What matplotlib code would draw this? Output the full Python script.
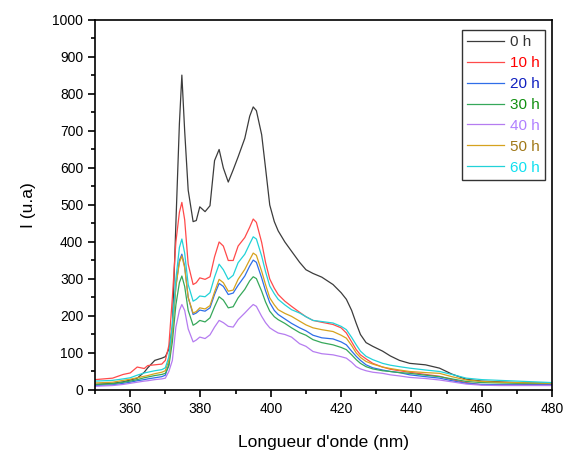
import matplotlib
matplotlib.use('Agg')
import matplotlib.pyplot as plt
from matplotlib.ticker import MultipleLocator

plt.rcParams['font.family'] = ['Liberation Sans', 'DejaVu Sans']

# longueur d'onde (nm), grille commune
wl = [350, 355, 358, 360, 362, 364, 365, 367, 369, 370,
      371, 372, 373, 374, 374.7, 375.5, 376.5, 377.9, 378.8, 379.8,
      381.3, 382.7, 384, 385.3, 386.5, 387.9, 389.3, 390.7, 392.6, 394,
      395, 395.9, 397.4, 398.5, 399.7, 401, 402.1, 404, 405.9, 408.2,
      410, 412, 414.5, 417.7, 420, 421.5, 423, 424.3, 425.5, 427.1,
      429, 431.8, 434, 436.6, 439.5, 444, 448, 451.5, 455.6, 460,
      465, 470, 475, 480]

i_0h = [15, 18, 22, 27, 32, 48, 60, 80, 86, 90,
        110, 170, 450, 720, 851, 700, 540, 455, 458, 495,
        482, 498, 620, 650, 600, 562, 595, 630, 680, 740,
        765, 755, 690, 600, 500, 455, 430, 400, 375, 345,
        325, 315, 305, 285, 263, 245, 215, 180, 150, 128,
        118, 105, 92, 80, 72, 68, 59, 43, 29, 24,
        22, 20, 19, 18]

i_10h = [28, 32, 42, 46, 62, 58, 66, 68, 70, 80,
         120, 250, 400, 480, 507, 460, 340, 285, 290, 303,
         299, 306, 360, 400, 389, 350, 350, 389, 412, 440,
         462, 453, 399, 345, 300, 275, 258, 240, 226, 210,
         198, 188, 183, 177, 168, 154, 130, 109, 95, 84,
         72, 62, 56, 52, 48, 42, 37, 28, 20, 14,
         14, 14, 15, 15]

i_20h = [12, 14, 18, 21, 25, 28, 30, 33, 36, 40,
         70, 160, 280, 350, 367, 335, 250, 204, 208, 216,
         213, 222, 258, 288, 280, 258, 262, 283, 308, 335,
         351, 345, 303, 268, 236, 215, 204, 192, 180, 168,
         160, 148, 141, 138, 130, 122, 105, 91, 80, 68,
         60, 54, 50, 47, 41, 36, 32, 25, 18, 15,
         14, 14, 14, 14]

i_30h = [15, 17, 21, 24, 28, 33, 35, 39, 42, 45,
         65, 130, 230, 290, 308, 280, 215, 175, 180, 188,
         184, 195, 225, 252, 243, 222, 225, 249, 272, 295,
         306, 301, 267, 238, 213, 198, 190, 180, 168, 155,
         148, 136, 128, 122, 115, 109, 95, 82, 72, 63,
         57, 52, 50, 47, 45, 40, 36, 30, 23, 20,
         19, 18, 18, 18]

i_40h = [10, 12, 15, 18, 21, 24, 25, 28, 30, 32,
         50, 80, 170, 215, 231, 215, 165, 130, 135, 143,
         139, 149, 170, 188, 182, 172, 170, 190, 208, 222,
         231, 226, 199, 182, 168, 160, 154, 150, 143, 125,
         118, 104, 98, 95, 90, 86, 75, 63, 57, 52,
         48, 45, 41, 38, 34, 31, 27, 22, 16, 13,
         12, 12, 12, 12]

i_50h = [19, 21, 26, 29, 33, 37, 39, 44, 48, 52,
         80, 160, 280, 345, 362, 330, 250, 208, 212, 222,
         219, 228, 265, 299, 290, 267, 270, 299, 326, 352,
         370, 364, 321, 285, 249, 230, 217, 207, 199, 186,
         176, 168, 163, 158, 148, 140, 120, 100, 88, 77,
         70, 62, 58, 54, 50, 47, 45, 36, 27, 23,
         21, 20, 19, 18]

i_60h = [24, 26, 30, 33, 40, 46, 48, 52, 55, 60,
         90, 180, 300, 385, 408, 370, 285, 240, 245, 254,
         252, 263, 305, 340, 325, 299, 310, 344, 367, 395,
         414, 408, 362, 320, 281, 260, 245, 230, 217, 208,
         198, 188, 185, 181, 172, 163, 142, 122, 105, 91,
         82, 72, 67, 63, 59, 54, 50, 42, 32, 28,
         26, 24, 22, 20]

labels = ['0 h', '10 h', '20 h', '30 h', '40 h', '50 h', '60 h']
series = [i_0h, i_10h, i_20h, i_30h, i_40h, i_50h, i_60h]
line_colors = ['#3c3c3c', '#ff4a4a', '#2f6ee8', '#36a85a', '#b57cf0', '#d6a21e', '#22d2d8']
text_colors = ['#333333', '#ff0000', '#1020c0', '#109010', '#b080ff', '#a07818', '#10e0f0']

fig = plt.figure(figsize=(5.67, 4.54), dpi=100)
ax = fig.add_axes([0.1676, 0.141, 0.806, 0.815])

for y, lab, c in zip(series, labels, line_colors):
    ax.plot(wl, y, color=c, lw=0.9, label=lab)

ax.set_xlim(350, 480)
ax.set_ylim(0, 1000)
ax.xaxis.set_major_locator(MultipleLocator(20))
ax.xaxis.set_minor_locator(MultipleLocator(10))
ax.yaxis.set_major_locator(MultipleLocator(100))
ax.yaxis.set_minor_locator(MultipleLocator(50))
ax.tick_params(which='both', direction='out', top=False, right=False, width=1.2, labelsize=10)
ax.tick_params(which='major', length=5)
ax.tick_params(which='minor', length=3)
for s in ax.spines.values():
    s.set_linewidth(1.2)

ax.set_xlabel("Longueur d'onde (nm)", fontsize=12.5, labelpad=14)
ax.set_ylabel('I (u.a)', fontsize=12.5, labelpad=12)

leg = ax.legend(loc='upper right', bbox_to_anchor=(0.985, 0.973), borderaxespad=0,
                fancybox=False, edgecolor='black', fontsize=11, handlelength=2.4,
                labelspacing=0.45, handletextpad=0.4, borderpad=0.35)
leg.get_frame().set_linewidth(1.0)
for t, c in zip(leg.get_texts(), text_colors):
    t.set_color(c)

fig.savefig('out.png', dpi=100)
